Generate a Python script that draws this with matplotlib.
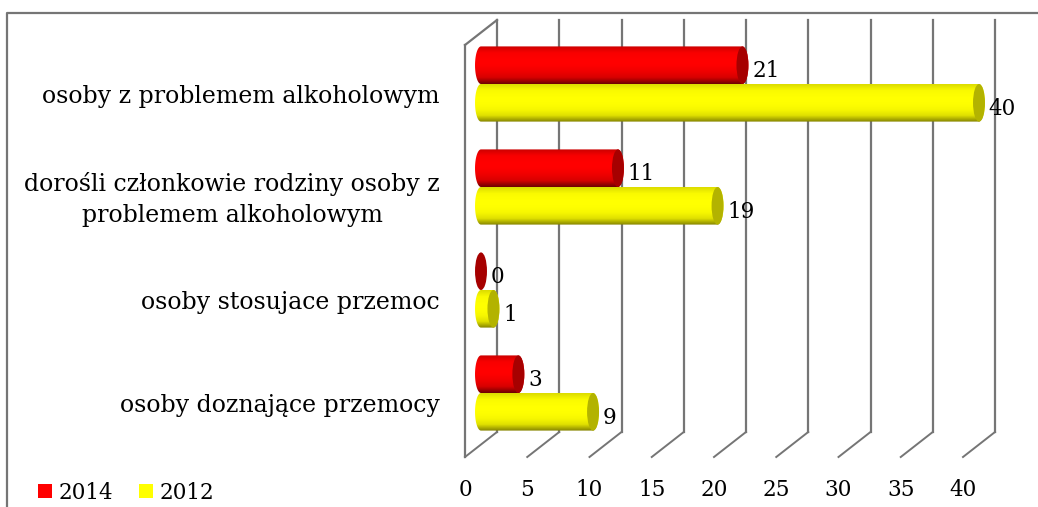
import numpy as np
from matplotlib import pyplot as plt
from matplotlib.colors import LinearSegmentedColormap
from matplotlib.lines import Line2D
from matplotlib.patches import Ellipse, PathPatch, Patch
from matplotlib.path import Path
from matplotlib.transforms import Affine2D

categories = ['osoby z problemem alkoholowym',
              'dorośli członkowie rodziny osoby z\nproblemem alkoholowym',
              'osoby stosujace przemoc',
              'osoby doznające przemocy']
values_2014 = [21, 11, 0, 3]
values_2012 = [40, 19, 1, 9]
series_names = ['2014', '2012']
x_ticks = [0, 5, 10, 15, 20, 25, 30, 35, 40]

W, H = 1038, 507
GREY = '#757575'
FONT = 'DejaVu Serif'
FS = 15.5
FS_CAT = 17
BAR_H = 0.365
CAP_W = 0.96

plt.rcParams['font.family'] = FONT


def px_box(left, top, right, bottom):
    """figure fractions for a box given in picture pixels"""
    return [left / W, 1 - bottom / H, (right - left) / W, (bottom - top) / H]


def cylinder(ax, y, value, colors, cap_color):
    """horizontal cylinder: gradient body clipped to its outline, then the end cap"""
    half_w = CAP_W / 2
    half_h = BAR_H / 2
    if value > 0:
        t = np.linspace(0.5 * np.pi, 1.5 * np.pi, 40)
        left_x = half_w * np.cos(t)
        left_y = y + half_h * np.sin(t)
        right_x = value + half_w * np.cos(t - np.pi)
        right_y = y + half_h * np.sin(t - np.pi)
        outline = np.column_stack([np.r_[left_x, right_x], np.r_[left_y, right_y]])
        clip = PathPatch(Path(np.vstack([outline, outline[:1]]), closed=True),
                         transform=ax.transData, fc='none', ec='none', clip_on=False)
        ax.add_patch(clip)
        cmap = LinearSegmentedColormap.from_list('cyl', colors)
        im = ax.imshow(np.linspace(0, 1, 64).reshape(-1, 1), cmap=cmap, aspect='auto',
                       extent=(-half_w, value + half_w, y + half_h, y - half_h),
                       origin='upper', zorder=3)
        # the rounded end reaches past the axes, so only the outline may clip it
        im.set_clip_box(ax.figure.bbox)
        im.set_clip_path(clip)
    ax.add_patch(Ellipse((value, y), CAP_W, BAR_H, fc=cap_color, ec='none', zorder=4, clip_on=False))
    ax.annotate(str(value), (value, y), xytext=(7, -4.5), textcoords='offset points',
                ha='left', va='center', fontsize=FS, color='black', zorder=5)


fig = plt.figure(figsize=(W / 100, H / 100), dpi=100)

# front plane of the 3d box carries the axis labels
ax = fig.add_axes(px_box(465, 45, 963, 457))
ax.set_xlim(0, 40)
ax.set_ylim(3.5, -0.5)
ax.set_xticks(x_ticks)
ax.set_xticklabels(x_ticks, fontsize=FS)
ax.set_yticks(range(len(categories)))
ax.set_yticklabels(categories, fontsize=FS_CAT, multialignment='center', linespacing=1.45, va='center')
ax.tick_params(axis='x', length=0, pad=16)
ax.tick_params(axis='y', length=0, pad=18)
ax.patch.set_alpha(0)
for s in ax.spines.values():
    s.set_visible(False)

# walls and gridlines, back plane is the front plane moved by the depth
depth = Affine2D().translate(32, 25)
back = ax.transData + depth
for x in x_ticks:
    ax.plot([x, x], [-0.5, 3.5], color=GREY, lw=1.6, transform=back, clip_on=False, zorder=1)
    p0 = ax.transData.transform((x, 3.5))
    p1 = back.transform((x, 3.5))
    ax.add_line(Line2D([p0[0], p1[0]], [p0[1], p1[1]], color=GREY, lw=1.4,
                       transform=None, clip_on=False, zorder=1))
p0 = ax.transData.transform((0, -0.5))
p1 = back.transform((0, -0.5))
ax.add_line(Line2D([p0[0], p1[0]], [p0[1], p1[1]], color=GREY, lw=1.6,
                   transform=None, clip_on=False, zorder=1))
ax.plot([0, 0], [-0.5, 3.5], color=GREY, lw=1.6, clip_on=False, zorder=1)

# bars sit half way through the depth
ax_bar = fig.add_axes(px_box(481, 32.5, 979, 444.5))
ax_bar.patch.set_alpha(0)
ax_bar.axis('off')
red = ['#cc0000', '#f80000', '#ff0000', '#ff0000', '#f00000', '#d80000', '#700000']
yellow = ['#dcdc00', '#fafa00', '#ffff00', '#ffff00', '#f8f800', '#e0e000', '#858400']
for i in range(len(categories)):
    cylinder(ax_bar, i - BAR_H / 2, values_2014[i], red, '#a60000')
    cylinder(ax_bar, i + BAR_H / 2, values_2012[i], yellow, '#b3b300')
ax_bar.set_xlim(0, 40)
ax_bar.set_ylim(3.5, -0.5)

# outer frame, runs off the picture on the right and at the bottom
fig.add_artist(Line2D([7 / W, 7 / W, 1], [0, 1 - 13 / H, 1 - 13 / H], color=GREY, lw=1.6))

handles = [Patch(fc='#ff0000'), Patch(fc='#ffff00')]
fig.legend(handles, series_names, loc='lower left', bbox_to_anchor=(21 / W, -14 / H), ncols=2,
           frameon=False, fontsize=FS, handlelength=0.65, handleheight=0.65,
           handletextpad=0.3, columnspacing=1.2, borderpad=0.3)

fig.savefig('out.png', dpi=100)
